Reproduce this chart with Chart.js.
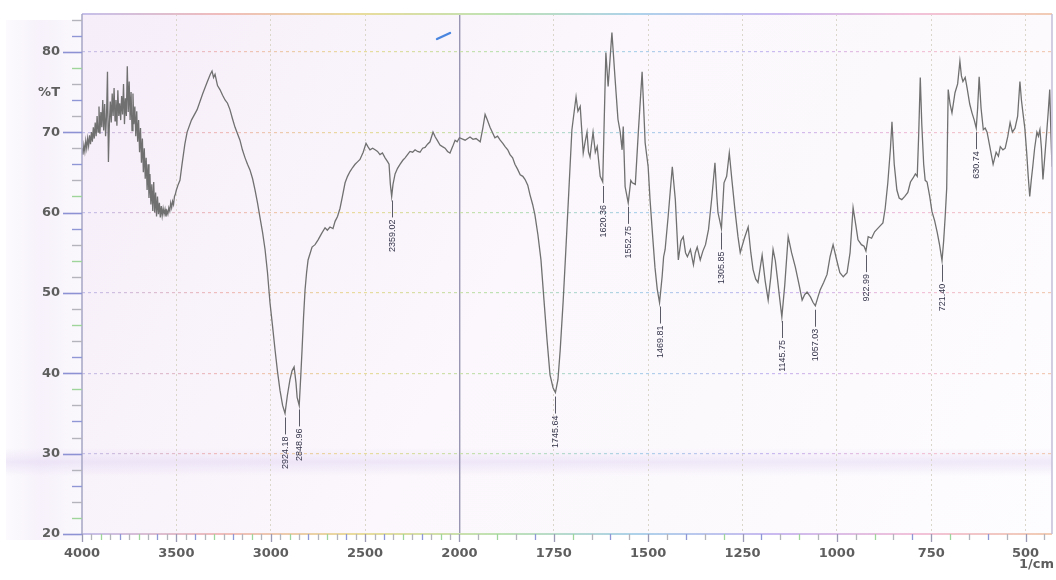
<!DOCTYPE html>
<html>
<head>
<meta charset="utf-8">
<title>IR spectrum</title>
<script src="https://cdn.jsdelivr.net/npm/chart.js@4.4.1/dist/chart.umd.min.js"></script>
<style>
  html, body { margin: 0; padding: 0; background: #ffffff; }
  canvas { display: block; }
</style>
</head>
<body>
<canvas id="ir" width="1056" height="580"></canvas>
<script>
// Wavenumber (1/cm), descending, and transmittance (%T) of the recorded spectrum.
const wavenumbers = [
  4000, 3995, 3990, 3985, 3980, 3975, 3970, 3965, 3960, 3955,
  3950, 3945, 3940, 3935, 3930, 3925, 3920, 3915, 3910, 3905,
  3900, 3895, 3890, 3885, 3880, 3875, 3870, 3865, 3860, 3855,
  3850, 3845, 3840, 3835, 3830, 3825, 3820, 3815, 3810, 3805,
  3800, 3795, 3790, 3785, 3780, 3775, 3770, 3765, 3760, 3755,
  3750, 3745, 3740, 3735, 3730, 3725, 3720, 3715, 3710, 3705,
  3700, 3695, 3690, 3685, 3680, 3675, 3670, 3665, 3660, 3655,
  3650, 3645, 3640, 3635, 3630, 3625, 3620, 3615, 3610, 3605,
  3600, 3595, 3590, 3585, 3580, 3575, 3570, 3565, 3560, 3555,
  3550, 3545, 3540, 3535, 3530, 3525, 3520, 3515, 3510, 3505,
  3500, 3490, 3481, 3470, 3455, 3443, 3420, 3390, 3360,
  3337, 3320, 3311, 3303, 3295, 3282, 3269, 3255, 3242, 3229,
  3216, 3203, 3189, 3176, 3163, 3150, 3136, 3123, 3110, 3096,
  3083, 3070, 3057, 3043, 3030, 3017, 3004, 2990, 2977, 2964,
  2951, 2937, 2924.18, 2912, 2898, 2887, 2876, 2866, 2860, 2848.96,
  2840, 2834, 2826, 2818, 2810, 2802, 2781, 2765, 2749, 2730,
  2712, 2700, 2686, 2670, 2659, 2646, 2633, 2620, 2606, 2593,
  2580, 2566, 2553, 2540, 2527, 2510, 2495, 2485, 2474, 2460,
  2447, 2434, 2421, 2408, 2394, 2380, 2373, 2366, 2359.02, 2352,
  2341, 2328, 2315, 2300, 2288, 2275, 2262, 2248, 2235, 2222,
  2209, 2195, 2182, 2169, 2156, 2140, 2128, 2118, 2103, 2090,
  2076, 2063, 2050, 2036, 2023, 2012, 2000, 1985, 1972, 1964,
  1956, 1945, 1938, 1932, 1926, 1919, 1906, 1899, 1892, 1885,
  1879, 1872, 1866, 1859, 1853, 1846, 1839, 1832, 1826, 1819,
  1813, 1806, 1800, 1792, 1784, 1776, 1768, 1760, 1752, 1745.64,
  1739, 1733, 1725, 1718, 1710, 1702, 1691, 1686, 1680, 1672,
  1667, 1662, 1658, 1654, 1650, 1646, 1640, 1635, 1627, 1620.36,
  1612, 1606, 1596, 1588, 1580, 1574, 1569, 1566, 1561, 1552.75,
  1546, 1542, 1534, 1526, 1516, 1510, 1508, 1500, 1495, 1488,
  1482, 1476, 1469.81, 1463, 1459, 1455, 1447, 1436, 1428, 1420,
  1413, 1407, 1401, 1396, 1388, 1380, 1375, 1370, 1362, 1355,
  1348, 1340, 1331, 1323, 1318, 1315, 1305.85, 1299, 1292, 1285,
  1278, 1270, 1262, 1256, 1245, 1235, 1228, 1222, 1215, 1209,
  1198, 1190, 1182, 1175, 1169, 1163, 1158, 1152, 1145.75, 1138,
  1129, 1120, 1110, 1100, 1092, 1085, 1079, 1070, 1063, 1057.03,
  1050, 1044, 1035, 1026, 1018, 1010, 1000, 992, 983, 973,
  965, 957, 950, 944, 935, 928, 922.99, 917, 908, 900,
  894, 886, 878, 872, 865, 858, 854, 848, 841, 835,
  828, 820, 812, 805, 798, 792, 787, 783, 779, 775,
  770, 766, 761, 754, 748, 741, 734, 728, 721.40, 717,
  713, 709, 705, 700, 695, 687, 680, 674, 670, 666,
  660, 655, 648, 642, 636, 630.74, 627, 623, 618, 612,
  607, 602, 594, 586, 578, 572, 567, 560, 554, 547,
  541, 535, 528, 521, 515, 511, 507, 502, 497, 493,
  489, 485, 481, 476, 470, 466, 462, 458, 454, 449,
  444, 440, 436, 433, 430
];

const transmittance = [
  68.0, 67.2, 68.4, 67.6, 68.9, 68.0, 69.2, 68.3, 69.6, 68.5,
  70.0, 68.8, 70.6, 69.2, 71.2, 69.5, 72.0, 70.0, 73.2, 69.8,
  72.5, 70.6, 74.0, 70.2, 73.5, 69.5, 72.0, 77.5, 66.3, 71.0,
  73.8, 71.2, 74.8, 72.0, 75.5, 71.4, 74.0, 70.8, 75.2, 72.0,
  73.6, 71.5, 74.5, 72.2, 76.0, 71.0, 74.2, 72.0, 78.2, 72.5,
  76.3, 71.5, 75.0, 70.2, 74.8, 71.0, 73.2, 69.5, 72.6, 68.8,
  71.5, 67.5, 70.5, 66.2, 69.2, 65.0, 68.0, 64.2, 66.8, 62.8,
  66.0, 61.8, 64.8, 61.0, 63.5, 60.2, 63.8, 60.0, 62.5, 59.5,
  62.0, 59.8, 61.2, 59.4, 60.8, 59.6, 60.5, 59.8, 60.4, 59.5,
  60.2, 59.8, 60.6, 60.2, 61.2, 60.6, 61.4, 61.0, 62.0, 62.3,
  62.8, 63.5, 64.0, 66.0, 68.5, 70.0, 71.5, 72.8, 74.8,
  76.2, 77.2, 77.6, 76.8, 77.2, 75.8, 75.3, 74.6, 74.0, 73.6,
  72.8, 71.7, 70.6, 69.8, 69.0, 67.8, 66.8, 66.0, 65.3, 64.2,
  62.8, 61.2, 59.4, 57.5, 55.4, 52.5, 48.8, 45.8, 42.9, 40.2,
  37.9, 36.0, 35.0, 37.2, 39.2, 40.3, 40.8, 38.8, 37.0, 36.0,
  40.0, 42.9, 47.0, 50.4, 52.5, 54.1, 55.7, 56.0, 56.6, 57.4,
  58.1, 57.8, 58.2, 58.0, 58.9, 59.5, 60.5, 62.0, 63.7, 64.5,
  65.1, 65.6, 66.0, 66.3, 66.6, 67.5, 68.6, 68.2, 67.8, 68.0,
  67.8, 67.6, 67.2, 67.4, 66.8, 66.3, 66.0, 63.5, 62.0, 63.5,
  64.8, 65.5, 66.0, 66.5, 66.8, 67.2, 67.6, 67.5, 67.8, 67.6,
  67.5, 68.0, 68.1, 68.5, 68.8, 70.0, 69.4, 69.0, 68.4, 68.2,
  68.0, 67.6, 67.4, 68.2, 69.0, 68.8, 69.3, 69.0, 69.4, 69.1,
  69.2, 68.8, 70.5, 72.2, 71.5, 70.6, 69.3, 69.5, 69.0, 68.6,
  68.2, 67.8, 67.2, 66.8, 66.0, 65.4, 64.7, 64.5, 64.1, 63.4,
  62.2, 61.0, 59.7, 57.2, 54.1, 49.1, 44.2, 39.8, 38.2, 37.6,
  39.2, 42.9, 49.1, 55.4, 62.8, 70.3, 74.4, 72.6, 73.2, 67.4,
  68.8, 70.0, 67.5, 66.9, 68.5, 70.0, 67.5, 68.2, 64.5, 63.8,
  79.9, 75.7, 82.4, 76.9, 71.6, 70.0, 67.8, 70.7, 63.2, 61.2,
  64.0, 63.7, 63.5, 70.0, 77.5, 71.0, 68.7, 65.7, 61.6, 57.0,
  53.2, 50.5, 48.8, 52.0, 54.5, 55.4, 59.5, 65.7, 61.6, 54.1,
  56.5, 57.0, 55.0, 54.5, 55.4, 53.5, 55.0, 55.7, 54.1, 55.2,
  56.0, 57.9, 62.0, 66.2, 62.0, 60.0, 58.0, 63.7, 64.5, 67.4,
  64.0, 60.3, 57.0, 55.0, 56.8, 58.2, 55.0, 52.9, 51.7, 51.3,
  54.7, 51.5, 49.1, 52.0, 55.4, 54.0, 52.0, 49.5, 47.0, 51.0,
  57.0, 55.0, 53.2, 51.0, 49.1, 49.8, 50.1, 49.5, 48.8, 48.4,
  49.5, 50.4, 51.3, 52.3, 54.5, 56.0, 54.0, 52.5, 52.0, 52.5,
  55.0, 60.6, 58.5, 56.6, 56.0, 55.8, 55.2, 57.0, 56.8, 57.6,
  57.9, 58.3, 58.7, 60.5, 63.7, 68.0, 71.3, 66.0, 62.8, 61.8,
  61.6, 62.0, 62.5, 63.8, 64.3, 64.8, 64.5, 70.0, 76.8, 71.0,
  66.0, 64.0, 63.8, 62.0, 60.1, 59.0, 57.5, 56.0, 54.0, 56.5,
  59.5, 63.0, 75.3, 73.5, 72.4, 74.9, 76.0, 78.8, 77.0, 76.3,
  76.8, 75.5, 73.5, 72.4, 71.5, 70.5, 73.0, 76.9, 73.0, 70.3,
  70.5, 70.0, 68.0, 66.0, 67.5, 67.0, 68.2, 67.8, 68.0, 69.5,
  71.2, 70.0, 70.5, 72.0, 76.3, 74.0, 72.4, 70.5, 67.4, 64.5,
  62.0, 64.0, 65.7, 68.0, 70.0, 69.5, 70.3, 68.0, 64.1, 67.0,
  70.0, 72.5, 75.3, 70.0, 65.7
];

// Absorption bands that carry a wavenumber label.
const peakWavenumbers = [2924.18, 2848.96, 2359.02, 1745.64, 1620.36, 1552.75,
                         1469.81, 1305.85, 1145.75, 1057.03, 922.99, 721.40, 630.74];

// Axis ticks and ranges.
const xTickValues = [4000, 3500, 3000, 2500, 2000, 1750, 1500, 1250, 1000, 750, 500];
const yTickValues = [20, 30, 40, 50, 60, 70, 80];
const WN_MAX = 4000;
const WN_MIN = 430;
const WN_BREAK = 2000;      // below this the wavenumber axis is drawn at double scale
const T_MIN = 20;
const T_MAX = 84.7;

// Linear wavenumber axis, high values on the left, with a 2x expansion below WN_BREAK.
class SplitWavenumberScale extends Chart.LinearScale {
  _units(v) {
    return v >= WN_BREAK ? (this.max - v) : (this.max - WN_BREAK) + (WN_BREAK - v) * 2;
  }
  getPixelForValue(v) {
    const total = this._units(this.min);
    return this.left + this.width * this._units(v) / total;
  }
  getValueForPixel(px) {
    const total = this._units(this.min);
    const u = (px - this.left) / this.width * total;
    const upper = this.max - WN_BREAK;
    return u <= upper ? this.max - u : WN_BREAK - (u - upper) / 2;
  }
  buildTicks() {
    this.start = this.max;
    this.end = this.min;
    return xTickValues.map(v => ({ value: v }));
  }
}
SplitWavenumberScale.id = 'splitWavenumber';
SplitWavenumberScale.defaults = {};
Chart.register(SplitWavenumberScale);

const pastel = ['#c6c0ea', '#f0bcbc', '#e9dc9c', '#bfe2b4', '#aed2ea', '#cabaf0', '#f2c2da', '#f2ccb4'];
const tickPalette = ['#8f97d6', '#b4b4bc', '#9ed59a', '#b4b4bc'];

function pastelGradient(chart) {
  const a = chart.chartArea;
  const g = chart.ctx.createLinearGradient(a.left, 0, a.right, 0);
  pastel.forEach((c, i) => g.addColorStop(i / (pastel.length - 1), c));
  return g;
}

const paper = {
  id: 'paper',
  beforeDraw(chart) {
    const { ctx, chartArea: a, width, height } = chart;
    ctx.save();
    ctx.fillStyle = '#ffffff';
    ctx.fillRect(0, 0, width, height);

    // lavender haze in the left margin
    let g = ctx.createLinearGradient(0, 0, a.left, 0);
    g.addColorStop(0, 'rgba(240,232,247,0.15)');
    g.addColorStop(0.5, 'rgba(240,230,247,0.55)');
    g.addColorStop(1, 'rgba(244,238,249,0.4)');
    ctx.fillStyle = g;
    ctx.fillRect(6, 20, a.left - 6, 520);

    // tinted plot paper
    g = ctx.createLinearGradient(a.left, a.top, a.right, a.bottom);
    g.addColorStop(0, 'rgba(246,238,249,1)');
    g.addColorStop(0.45, 'rgba(251,247,252,1)');
    g.addColorStop(1, 'rgba(253,252,254,1)');
    ctx.fillStyle = g;
    ctx.fillRect(a.left, a.top, a.right - a.left, a.bottom - a.top);

    // faint lavender band across the lower part
    g = ctx.createLinearGradient(0, 448, 0, 476);
    g.addColorStop(0, 'rgba(226,214,243,0)');
    g.addColorStop(0.5, 'rgba(226,214,243,0.5)');
    g.addColorStop(1, 'rgba(226,214,243,0)');
    ctx.fillStyle = g;
    ctx.fillRect(6, 448, a.right - 6, 28);
    ctx.restore();
  },
  afterDraw(chart) {
    const { ctx, chartArea: a } = chart;
    const xs = chart.scales.x, ys = chart.scales.y;
    ctx.save();

    // frame
    ctx.lineWidth = 2;
    ctx.strokeStyle = pastelGradient(chart);
    ctx.beginPath(); ctx.moveTo(a.left, a.top); ctx.lineTo(a.right, a.top); ctx.stroke();
    ctx.beginPath(); ctx.moveTo(a.left, a.bottom); ctx.lineTo(a.right, a.bottom); ctx.stroke();
    ctx.lineWidth = 1.5;
    ctx.strokeStyle = '#a6a6c4';
    ctx.beginPath(); ctx.moveTo(a.left, a.top); ctx.lineTo(a.left, a.bottom); ctx.stroke();
    ctx.strokeStyle = '#c4bed8';
    ctx.beginPath(); ctx.moveTo(a.right, a.top); ctx.lineTo(a.right, a.bottom); ctx.stroke();

    // wavenumber ticks every 50
    ctx.lineWidth = 1.3;
    let k = 0;
    for (let v = WN_MAX; v >= WN_MIN; v -= 50, k++) {
      const px = Math.round(xs.getPixelForValue(v)) + 0.5;
      const major = xTickValues.includes(v);
      ctx.strokeStyle = major ? '#9a9ab4' : tickPalette[k % tickPalette.length];
      ctx.beginPath();
      ctx.moveTo(px, a.bottom);
      ctx.lineTo(px, a.bottom + (major ? 8 : 6));
      ctx.stroke();
    }
    // transmittance ticks every 2
    k = 0;
    for (let v = T_MIN; v <= T_MAX; v += 2, k++) {
      const py = Math.round(ys.getPixelForValue(v)) + 0.5;
      const major = v % 10 === 0;
      ctx.strokeStyle = major ? '#8c92d4' : tickPalette[(k + 1) % tickPalette.length];
      ctx.lineWidth = major ? 1.6 : 1.4;
      ctx.beginPath();
      ctx.moveTo(a.left - (major ? 19 : 10), py);
      ctx.lineTo(a.left, py);
      ctx.stroke();
    }

    // axis titles
    ctx.fillStyle = '#5e5e5e';
    ctx.font = 'bold 13px "DejaVu Sans"';
    ctx.textBaseline = 'middle';
    ctx.textAlign = 'right';
    ctx.fillText('%T', 60, 93);
    ctx.fillText('1/cm', 1054, 565);

    // small blue pen stroke near the top
    ctx.strokeStyle = '#4a86e0';
    ctx.lineWidth = 2.4;
    ctx.lineCap = 'round';
    ctx.beginPath(); ctx.moveTo(437, 39); ctx.lineTo(450, 33); ctx.stroke();
    ctx.restore();
  },
  afterDatasetsDraw(chart) {
    const { ctx } = chart;
    const xs = chart.scales.x, ys = chart.scales.y;
    ctx.save();
    ctx.font = '9px "Liberation Sans"';
    ctx.fillStyle = '#34344a';
    ctx.strokeStyle = '#5a5a66';
    ctx.lineWidth = 1;
    ctx.textBaseline = 'middle';
    ctx.textAlign = 'right';
    peakWavenumbers.forEach(wn => {
      const t = transmittance[wavenumbers.indexOf(wn)];
      const px = Math.round(xs.getPixelForValue(wn)) + 0.5;
      const py = ys.getPixelForValue(t);
      ctx.beginPath();
      ctx.moveTo(px, py + 4);
      ctx.lineTo(px, py + 21);
      ctx.stroke();
      ctx.save();
      ctx.translate(px, py + 23);
      ctx.rotate(-Math.PI / 2);
      ctx.fillText(wn.toFixed(2), 0, 0);
      ctx.restore();
    });
    ctx.restore();
  }
};

Chart.defaults.font.family = '"DejaVu Sans", sans-serif';

new Chart(document.getElementById('ir'), {
  type: 'line',
  data: {
    datasets: [{
      label: '%T',
      data: wavenumbers.map((w, i) => ({ x: w, y: transmittance[i] })),
      borderColor: '#707070',
      borderWidth: 1.3,
      pointRadius: 0,
      tension: 0,
      fill: false
    }]
  },
  options: {
    responsive: false,
    animation: false,
    events: [],
    layout: { padding: { left: 0, top: 14, right: 4, bottom: 0 } },
    plugins: { legend: { display: false }, tooltip: { enabled: false } },
    scales: {
      x: {
        type: 'splitWavenumber',
        min: WN_MIN,
        max: WN_MAX,
        afterFit: s => { s.height = 46; },
        border: { display: false, dash: c => (c.tick && c.tick.value === WN_BREAK) ? [] : [2, 3] },
        grid: {
          drawTicks: true,
          tickLength: 12,
          tickColor: 'rgba(0,0,0,0)',
          color: c => c.tick.value === WN_BREAK ? '#9896b2'
                    : (c.tick.value === WN_MAX ? 'rgba(0,0,0,0)' : '#dad6ca'),
          lineWidth: c => c.tick.value === WN_BREAK ? 1.4 : 1
        },
        ticks: {
          autoSkip: false,
          maxRotation: 0,
          padding: 0,
          color: '#5e5e5e',
          font: { size: 13, weight: 'bold' },
          callback: v => String(v)
        }
      },
      y: {
        type: 'linear',
        min: T_MIN,
        max: T_MAX,
        afterFit: s => { s.width = 82; },
        afterBuildTicks: s => { s.ticks = yTickValues.map(v => ({ value: v })); },
        border: { display: false, dash: [3, 3] },
        grid: {
          drawTicks: true,
          tickLength: 22,
          tickColor: 'rgba(0,0,0,0)',
          color: c => (c.tick && c.tick.value === T_MIN) ? 'rgba(0,0,0,0)' : pastelGradient(c.chart),
          lineWidth: 1.2
        },
        ticks: {
          padding: 0,
          color: '#5e5e5e',
          font: { size: 13, weight: 'bold' },
          callback: v => String(v)
        }
      }
    }
  },
  plugins: [paper]
});
</script>
</body>
</html>
